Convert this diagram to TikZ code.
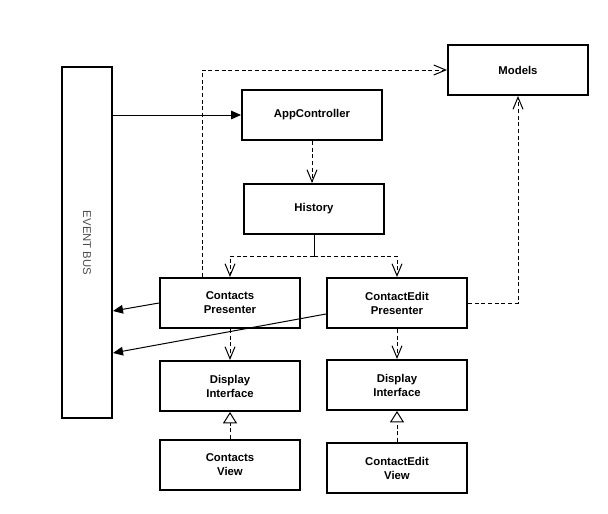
\documentclass[tikz,border=0pt]{standalone}
\usepackage{fontspec}
\setmainfont{Liberation Sans}
\usetikzlibrary{arrows.meta,calc}
\begin{document}
\begin{tikzpicture}[x=0.75pt,y=-0.75pt,
  box/.style={draw,line width=1.5pt,rectangle,minimum width=105pt,minimum height=37.5pt,
    align=center,font=\fontsize{8.5}{10.5}\selectfont\bfseries,inner sep=0pt},
  conn/.style={line width=0.75pt},
  dsh/.style={conn,dash pattern=on 3pt off 2pt},
  solidarr/.style={-{Triangle[length=7.5pt,width=6.5pt]}},
  openarr/.style={-{Straight Barb[length=9pt,width=7.5pt,line width=0.75pt]}},
  realarr/.style={-{Triangle[open,length=8.5pt,width=10.5pt,line width=0.75pt,fill=white]}}]
\useasboundingbox (0,0) rectangle (608,514);
\node[draw,line width=1.5pt,minimum width=37.5pt,minimum height=263.25pt,inner sep=0pt] (bus) at (87,242.5) {};
\node[rotate=-90,text=black!70,font=\fontsize{8.5}{10}\selectfont] (bustext) at (87,243) {EVENT BUS};
\node[box] (models) at (518,70) {Models};
\node[box] (app) at (312,115) {AppController};
\node[box] (hist) at (314,209) {History};
\node[box] (cp) at (230,303) {Contacts\\Presenter};
\node[box] (cep) at (397,303) {ContactEdit\\Presenter};
\node[box] (di1) at (230,386) {Display\\Interface};
\node[box] (di2) at (397,385) {Display\\Interface};
\node[box] (cv) at (230,465) {Contacts\\View};
\node[box] (cev) at (397,468) {ContactEdit\\View};
\coordinate (j) at (hist.south |- 0,256);
\coordinate (e1) at (bus.east |- 0,311);
\coordinate (e2) at (bus.east |- 0,353);
% event bus to app controller
\draw[conn,solidarr] (app.west -| bus.east) -- (app.west);
% app controller to history
\draw[dsh,openarr] (app.south) -- (app.south |- hist.north);
% history to presenters
\draw[conn] (hist.south) -- (j);
\draw[dsh,openarr] (j) -| (cp.north);
\draw[dsh,openarr] (j) -| (cep.north);
% presenters to models
\draw[dsh,openarr] ([xshift=-21pt]cp.north) |- (models.west);
\draw[dsh,openarr] (cep.east) -| (models.south);
% presenters to event bus
\draw[conn,solidarr] (cp.west) -- (e1);
\draw[conn,solidarr] ([yshift=-8.25pt]cep.west) -- (e2);
% presenters to display interfaces
\draw[dsh,openarr] (cp.south) -- (di1.north);
\draw[dsh,openarr] (cep.south) -- (di2.north);
% views realize display interfaces
\draw[dsh,realarr] (cv.north) -- (di1.south);
\draw[dsh,realarr] (cev.north) -- (di2.south);
\end{tikzpicture}
\end{document}
